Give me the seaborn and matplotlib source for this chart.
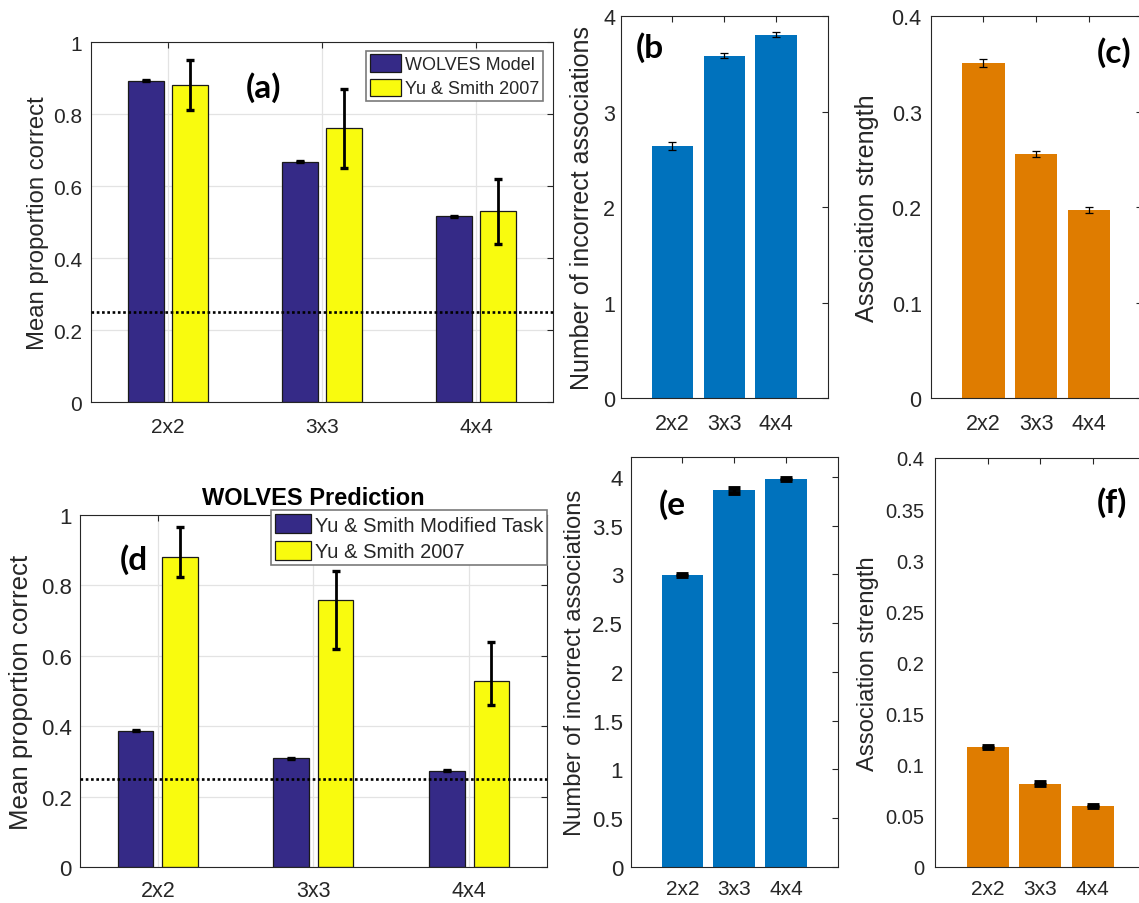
import matplotlib
matplotlib.use("Agg")
import matplotlib.pyplot as plt
from matplotlib.ticker import FuncFormatter
import numpy as np
import pandas as pd
import seaborn as sns

# ---------------- data ----------------
categories = ["2x2", "3x3", "4x4"]

# (a) WOLVES model vs. Yu & Smith (2007) proportion correct
model_a = [0.892, 0.667, 0.516]
model_a_err = [0.0015, 0.0015, 0.002]
yusmith_a = [0.88, 0.76, 0.53]
yusmith_a_err = [0.07, 0.11, 0.09]

# (b) number of incorrect associations, (c) association strength
incorrect_b = [2.64, 3.585, 3.805]
incorrect_b_err = [0.045, 0.03, 0.024]
strength_c = [0.351, 0.2555, 0.197]
strength_c_err = [0.004, 0.0033, 0.0035]

# (d) WOLVES prediction for the modified task
model_d = [0.388, 0.310, 0.274]
model_d_err = [0.0012, 0.0012, 0.0012]
yusmith_d = [0.88, 0.76, 0.53]
yusmith_d_low = [0.825, 0.62, 0.46]
yusmith_d_high = [0.965, 0.84, 0.64]

# (e) number of incorrect associations, (f) association strength
incorrect_e = [2.99, 3.86, 3.98]
incorrect_e_err = [0.01, 0.03, 0.01]
strength_f = [0.117, 0.081, 0.059]
strength_f_err = [0.001, 0.0015, 0.001]

chance_level = 0.25

legend_a = ["WOLVES Model", "Yu & Smith 2007"]
legend_d = ["Yu & Smith Modified Task", "Yu & Smith 2007"]

# ---------------- style ----------------
sns.set_style("white")
plt.rcParams["font.family"] = ["Liberation Sans", "DejaVu Sans"]
plt.rcParams["axes.edgecolor"] = "#262626"
plt.rcParams["axes.linewidth"] = 0.8
plt.rcParams["text.color"] = "#262626"
plt.rcParams["axes.labelcolor"] = "#262626"
plt.rcParams["xtick.color"] = "#262626"
plt.rcParams["ytick.color"] = "#262626"

DARK_BLUE = "#352A87"
YELLOW = "#F9FB0E"
MBLUE = "#0072BD"
ORANGE = "#DF7C00"
PANEL_FONT = ["Lato", "DejaVu Sans"]

fig = plt.figure(figsize=(11.39, 9.04), dpi=100)


def fmt(v, _):
    return ("%g" % round(v, 4))


def style_axis(ax, ylim, yticks, tick_fs, xtick_fs, ypad, xpad):
    ax.set_ylim(*ylim)
    ax.set_yticks(yticks)
    ax.yaxis.set_major_formatter(FuncFormatter(fmt))
    ax.tick_params(axis="both", direction="in", top=True, right=True,
                   length=4, width=0.8)
    ax.tick_params(axis="y", labelsize=tick_fs, pad=ypad)
    ax.tick_params(axis="x", labelsize=xtick_fs, pad=xpad)
    ax.set_xlabel("")
    for s in ax.spines.values():
        s.set_visible(True)
        s.set_color("#262626")
        s.set_linewidth(0.8)


def grouped_panel(ax, s1, s2, labels, err1, err2, legend_fs, legend_anchor):
    df = pd.DataFrame({
        "size": categories * 2,
        "value": list(s1) + list(s2),
        "source": [labels[0]] * len(s1) + [labels[1]] * len(s2),
    })
    sns.barplot(data=df, x="size", y="value", hue="source", hue_order=labels,
                palette=[DARK_BLUE, YELLOW], saturation=1, width=4 / 7, gap=0.2,
                errorbar=None, edgecolor="#1a1a1a", linewidth=0.9,
                legend=False, ax=ax)
    for cont, err in zip(ax.containers, [err1, err2]):
        xs = [p.get_x() + p.get_width() / 2 for p in cont]
        ys = [p.get_height() for p in cont]
        ax.errorbar(xs, ys, yerr=err, fmt="none", ecolor="black",
                    elinewidth=2.0, capsize=3.2, capthick=2.4, zorder=3)
    ax.axhline(chance_level, color="black", linestyle=(0, (1, 1)),
               linewidth=1.9, zorder=4)
    ax.set_xlim(-0.5, 2.5)
    ax.grid(True, color="#e3e3e3", linewidth=0.9)
    ax.set_axisbelow(True)
    leg = ax.legend(ax.containers[:2], labels, loc="upper right",
                    bbox_to_anchor=legend_anchor, borderaxespad=0,
                    frameon=True, fancybox=False, framealpha=1,
                    edgecolor="#7a7a7a", fontsize=legend_fs,
                    handlelength=1.75, handleheight=1.1, handletextpad=0.2,
                    borderpad=0.2, labelspacing=0.3)
    leg.get_frame().set_linewidth(1.2)
    leg.set_zorder(6)


def single_panel(ax, values, errs, color, err_kw):
    df = pd.DataFrame({"size": categories, "value": values})
    sns.barplot(data=df, x="size", y="value", color=color, saturation=1,
                width=0.8, errorbar=None, edgecolor="none", ax=ax)
    cont = ax.containers[0]
    xs = [p.get_x() + p.get_width() / 2 for p in cont]
    ys = [p.get_height() for p in cont]
    ax.errorbar(xs, ys, yerr=errs, fmt="none", ecolor="black", zorder=3,
                **err_kw)
    ax.set_xlim(-1, 3)


def ylab(ax, text, size, x, y=0.5):
    ax.set_ylabel(text, fontsize=size, va="center")
    ax.yaxis.set_label_coords(x, y)


def panel_tag(ax, text, x, y):
    ax.text(x, y, text, transform=ax.transAxes, ha="center", va="center",
            fontsize=24, fontweight="bold", family=PANEL_FONT, color="black")


# ---------------- panel (a) ----------------
ax_a = fig.add_axes([0.0799, 0.5542, 0.4056, 0.3982])
grouped_panel(ax_a, model_a, yusmith_a, legend_a, model_a_err, yusmith_a_err,
              13, (0.978, 0.976))
style_axis(ax_a, (0, 1), np.arange(0, 1.01, 0.2), 15, 15, 6.5, 11)
ylab(ax_a, "Mean proportion correct", 17.2, -0.115)
panel_tag(ax_a, "(a)", 0.374, 0.875)

# ---------------- panel (b) ----------------
ax_b = fig.add_axes([0.5449, 0.5586, 0.1820, 0.4226])
single_panel(ax_b, incorrect_b, incorrect_b_err, MBLUE,
             dict(elinewidth=0.9, capsize=3, capthick=0.9))
style_axis(ax_b, (0, 4), np.arange(0, 4.01, 1), 15.5, 15.5, 4, 11)
ylab(ax_b, "Number of incorrect associations", 18, -0.187)
panel_tag(ax_b, "(b", 0.141, 0.921)

# ---------------- panel (c) ----------------
ax_c = fig.add_axes([0.8171, 0.5586, 0.1852, 0.4226])
single_panel(ax_c, strength_c, strength_c_err, ORANGE,
             dict(elinewidth=0.9, capsize=3, capthick=0.9))
style_axis(ax_c, (0, 0.4), np.arange(0, 0.401, 0.1), 15.5, 15.5, 6.5, 11)
ylab(ax_c, "Association strength", 18.2, -0.302)
panel_tag(ax_c, "(c)", 0.871, 0.908)

# ---------------- panel (d) ----------------
ax_d = fig.add_axes([0.0702, 0.0395, 0.4100, 0.3897])
yerr_d = [np.array(yusmith_d) - np.array(yusmith_d_low),
          np.array(yusmith_d_high) - np.array(yusmith_d)]
grouped_panel(ax_d, model_d, yusmith_d, legend_d, model_d_err, yerr_d,
              14.5, (1.0, 1.014))
style_axis(ax_d, (0, 1), np.arange(0, 1.01, 0.2), 16, 15.5, 6, 9)
ylab(ax_d, "Mean proportion correct", 18.6, -0.126)
ax_d.set_title("WOLVES Prediction", fontsize=17, fontweight="bold", pad=8,
               color="black")
panel_tag(ax_d, "(d", 0.1156, 0.875)

# ---------------- panel (e) ----------------
ax_e = fig.add_axes([0.5537, 0.0401, 0.1817, 0.4529])
single_panel(ax_e, incorrect_e, incorrect_e_err, MBLUE,
             dict(elinewidth=2.5, capsize=4, capthick=3.5))
style_axis(ax_e, (0, 4.2), np.arange(0, 4.01, 0.5), 16, 15, 5.5, 9)
ylab(ax_e, "Number of incorrect associations", 17.1, -0.269)
panel_tag(ax_e, "(e", 0.202, 0.886)

# ---------------- panel (f) ----------------
ax_f = fig.add_axes([0.8209, 0.0402, 0.1844, 0.4521])
single_panel(ax_f, strength_f, strength_f_err, ORANGE,
             dict(elinewidth=2.5, capsize=4, capthick=3.5))
style_axis(ax_f, (0, 0.4), np.arange(0, 0.401, 0.05), 14.5, 15, 8, 9)
ylab(ax_f, "Association strength", 17.2, -0.319)
panel_tag(ax_f, "(f)", 0.843, 0.892)

fig.savefig("out.png", dpi=100)
